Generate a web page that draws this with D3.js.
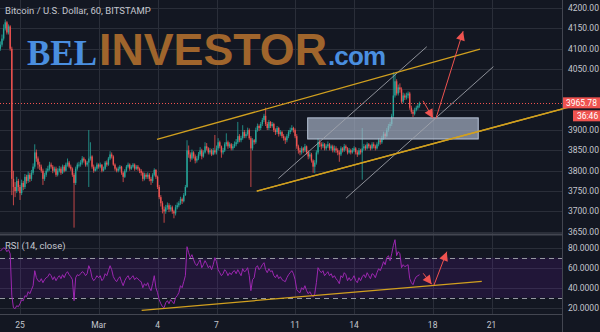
<!DOCTYPE html>
<html>
  <head>
    <meta charset="UTF-8" />
    <script src="https://d3js.org/d3.v7.min.js"></script>
    <style>
      body { margin: 0; background: #131722; }
    </style>
  </head>
  <body>
    <div id="my_dataviz"></div>

    <script>
      // 2-hour candles from Feb 24 00:00 (UTC), one line per day
      var startTime = Date.UTC(2019, 1, 24);
      var stepHours = 2;

      var close = [
        4110, 4125, 4150, 4165, 4140, 4155, 4100, 3780, 3760, 3750, 3775, 3760,
        3745, 3770, 3760, 3785, 3775, 3790, 3780, 3795, 3810, 3845, 3830, 3815,
        3810, 3800, 3780, 3790, 3800, 3805, 3815, 3810, 3800, 3805, 3790, 3800,
        3805, 3795, 3810, 3800, 3815, 3820, 3810, 3805, 3790, 3770, 3805, 3815,
        3815, 3820, 3830, 3825, 3815, 3820, 3830, 3835, 3810, 3800, 3805, 3815,
        3810, 3815, 3800, 3805, 3820, 3815, 3830, 3840, 3835, 3815, 3805, 3800,
        3805, 3810, 3795, 3785, 3800, 3810, 3815, 3805, 3810, 3815, 3805, 3810,
        3805, 3800, 3795, 3780, 3790, 3785, 3790, 3780, 3775, 3790, 3802, 3785,
        3760, 3735, 3720, 3705, 3700, 3710, 3715, 3705, 3710, 3700, 3695, 3710,
        3715, 3720, 3730, 3725, 3740, 3760, 3850, 3840, 3830, 3845, 3835, 3825,
        3830, 3840, 3850, 3835, 3845, 3860, 3855, 3845, 3850, 3840, 3850, 3845,
        3855, 3870, 3860, 3845, 3850, 3865, 3870, 3860, 3865, 3855, 3860, 3865,
        3870, 3885, 3875, 3880, 3895, 3885, 3890, 3900, 3880, 3855, 3875, 3870,
        3900, 3910, 3905, 3915, 3925, 3935, 3915, 3905, 3920, 3910, 3915, 3900,
        3895, 3905, 3890, 3895, 3885, 3880, 3875, 3885, 3895, 3900, 3905, 3900,
        3885, 3860, 3850, 3845, 3855, 3850, 3860, 3845, 3835, 3840, 3825, 3810,
        3820, 3845, 3870, 3865, 3860, 3865, 3855, 3860, 3865, 3855, 3860, 3850,
        3855, 3850, 3845, 3840, 3855, 3850, 3860, 3855, 3845, 3850, 3845, 3850,
        3855, 3845, 3840, 3850, 3845, 3855, 3860, 3855, 3865, 3860, 3855, 3865,
        3860, 3855, 3865, 3875, 3870, 3880, 3890, 3885, 3900, 3910, 3915, 3935,
        3985, 4020, 3990, 4005, 4000, 3970, 3985, 3980, 3985, 3990, 3955, 3945,
        3940, 3950, 3955, 3960, 3965.78
      ];
      var firstOpen = 4100;

      var high = [
        4118, 4135, 4160, 4172, 4168, 4160, 4158, 4105, 3800, 3772, 3785, 3780,
        3765, 3778, 3775, 3792, 3790, 3798, 3795, 3802, 3818, 3865, 3852, 3835,
        3822, 3815, 3805, 3795, 3806, 3812, 3822, 3820, 3814, 3810, 3810, 3806,
        3812, 3810, 3815, 3814, 3820, 3830, 3824, 3815, 3808, 3795, 3810, 3820,
        3822, 3826, 3836, 3834, 3828, 3824, 3900, 3870, 3838, 3815, 3810, 3820,
        3818, 3820, 3816, 3810, 3824, 3825, 3834, 3848, 3845, 3838, 3818, 3808,
        3810, 3814, 3812, 3798, 3804, 3814, 3820, 3818, 3814, 3819, 3818, 3814,
        3814, 3808, 3804, 3798, 3795, 3794, 3796, 3794, 3785, 3794, 3806, 3804,
        3788, 3765, 3740, 3725, 3712, 3716, 3722, 3720, 3716, 3714, 3704, 3716,
        3722, 3725, 3736, 3734, 3745, 3765, 3875, 3862, 3845, 3852, 3848, 3840,
        3836, 3846, 3858, 3854, 3850, 3870, 3868, 3858, 3856, 3854, 3856, 3888,
        3862, 3880, 3874, 3862, 3856, 3870, 3892, 3874, 3870, 3868, 3866, 3872,
        3878, 3920, 3890, 3886, 3912, 3900, 3896, 3906, 3904, 3885, 3880, 3878,
        3906, 3916, 3914, 3920, 3930, 3940, 3955, 3920, 3925, 3922, 3920, 3918,
        3904, 3910, 3908, 3900, 3898, 3890, 3884, 3890, 3900, 3906, 3912, 3908,
        3904, 3890, 3864, 3856, 3860, 3858, 3866, 3862, 3850, 3846, 3844, 3828,
        3826, 3850, 3880, 3876, 3870, 3870, 3868, 3865, 3872, 3868, 3864, 3864,
        3862, 3860, 3855, 3850, 3860, 3858, 3866, 3864, 3858, 3856, 3854, 3856,
        3860, 3858, 3850, 3856, 3854, 3905, 3866, 3864, 3870, 3868, 3864, 3870,
        3870, 3864, 3870, 3880, 3878, 3886, 3896, 3894, 3905, 3915, 3920, 3940,
        4042, 4040, 4025, 4012, 4015, 4005, 3992, 3990, 3992, 3995, 3994, 3960,
        3950, 3955, 3960, 3966, 3970
      ];

      var low = [
        4095, 4105, 4120, 4145, 4135, 4135, 4095, 3740, 3715, 3735, 3745, 3750,
        3728, 3740, 3752, 3755, 3768, 3770, 3772, 3775, 3790, 3805, 3822, 3805,
        3802, 3795, 3765, 3775, 3785, 3796, 3800, 3805, 3794, 3796, 3785, 3786,
        3796, 3790, 3792, 3796, 3798, 3810, 3806, 3800, 3785, 3660, 3765, 3800,
        3808, 3810, 3815, 3820, 3810, 3810, 3760, 3825, 3805, 3795, 3798, 3800,
        3805, 3806, 3796, 3798, 3802, 3810, 3812, 3826, 3830, 3812, 3800, 3796,
        3796, 3800, 3790, 3772, 3782, 3796, 3806, 3800, 3802, 3806, 3800, 3802,
        3800, 3794, 3788, 3774, 3776, 3780, 3780, 3774, 3765, 3770, 3786, 3780,
        3755, 3730, 3712, 3695, 3672, 3694, 3704, 3698, 3700, 3694, 3683, 3690,
        3705, 3710, 3716, 3718, 3722, 3738, 3758, 3832, 3822, 3826, 3830, 3818,
        3820, 3826, 3836, 3828, 3832, 3842, 3850, 3840, 3840, 3836, 3838, 3840,
        3840, 3850, 3855, 3832, 3840, 3846, 3860, 3854, 3856, 3850, 3850, 3856,
        3860, 3866, 3870, 3870, 3876, 3880, 3880, 3886, 3876, 3760, 3850, 3864,
        3866, 3896, 3898, 3900, 3910, 3920, 3910, 3900, 3900, 3905, 3906, 3895,
        3888, 3890, 3884, 3886, 3880, 3874, 3866, 3870, 3880, 3890, 3896, 3894,
        3880, 3854, 3842, 3838, 3840, 3844, 3846, 3840, 3828, 3830, 3820, 3795,
        3794, 3815, 3840, 3858, 3852, 3856, 3850, 3850, 3856, 3850, 3850, 3845,
        3845, 3844, 3838, 3822, 3836, 3845, 3846, 3850, 3840, 3842, 3840, 3842,
        3846, 3840, 3834, 3838, 3840, 3778, 3850, 3850, 3852, 3855, 3850, 3852,
        3855, 3850, 3852, 3860, 3864, 3866, 3876, 3880, 3882, 3896, 3904, 3910,
        3930, 3980, 3985, 3985, 3992, 3965, 3966, 3974, 3975, 3978, 3950, 3940,
        3932, 3936, 3946, 3950, 3955
      ];

      var rsi = [
        77, 78, 80, 79, 76, 78, 74, 32, 20, 19, 22, 21,
        24, 28, 27, 32, 31, 36, 34, 38, 42, 57, 50, 47,
        46, 49, 45, 48, 50, 51, 54, 52, 48, 51, 47, 50,
        52, 49, 53, 50, 54, 56, 53, 51, 48, 27, 50, 53,
        52, 54, 56, 55, 52, 54, 62, 58, 50, 47, 49, 52,
        50, 52, 47, 49, 54, 52, 57, 62, 58, 51, 48, 46,
        49, 51, 46, 42, 47, 50, 52, 48, 50, 52, 48, 50,
        49, 47, 46, 40, 44, 42, 45, 40, 37, 44, 52, 40,
        35, 28, 24, 21, 20, 25, 27, 24, 28, 26, 24, 30,
        32, 35, 42, 40, 46, 52, 81, 75, 70, 73, 68, 64,
        62, 65, 68, 60, 63, 67, 64, 60, 62, 58, 63, 70,
        66, 58, 55, 52, 54, 58, 56, 52, 55, 53, 56, 57,
        54, 58, 55, 52, 59, 56, 57, 60, 52, 37, 48, 50,
        60, 62, 58, 60, 63, 65, 58, 55, 59, 56, 57, 52,
        50, 53, 49, 51, 48, 47, 46, 50, 53, 55, 57, 54,
        48, 38, 36, 35, 40, 38, 42, 37, 34, 36, 33, 31,
        34, 45, 60, 57, 55, 57, 52, 54, 56, 52, 54, 50,
        52, 49, 47, 44, 52, 50, 55, 53, 47, 50, 47, 49,
        52, 47, 45, 50, 47, 51, 53, 50, 55, 52, 49, 54,
        53, 50, 55, 59, 57, 61, 66, 63, 70, 72, 67, 74,
        82, 88, 72, 76, 74, 60, 63, 61, 62, 63, 49, 45,
        43, 48, 51, 52, 53
      ];

      // axis ticks
      var priceTicks = [3650, 3700, 3750, 3800, 3850, 3900, 3950, 4000, 4050, 4100, 4150, 4200];
      var rsiTicks = [20, 40, 60, 80];
      var dateTicks = ["2019-02-25", "2019-03-01", "2019-03-04", "2019-03-07", "2019-03-11", "2019-03-14", "2019-03-18", "2019-03-21"];
      var dateLabels = ["25", "Mar", "4", "7", "11", "14", "18", "21"];

      // drawings, in days from Feb 25 and price / rsi units
      var channelLines = [
        { d1: 6.97, p1: 3877, d2: 23.41, p2: 4099 },
        { d1: 12.05, p1: 3750, d2: 29.52, p2: 3977 }
      ];
      var grayLines = [
        { d1: 13.15, p1: 3781, d2: 20.7, p2: 4105 },
        { d1: 16.58, p1: 3732, d2: 24.09, p2: 4056 }
      ];
      var zoneBox = { d1: 14.64, d2: 23.32, top: 3930, bottom: 3878 };
      var priceArrows = [
        { d1: 20.51, p1: 3972, d2: 21.02, p2: 3929 },
        { d1: 21.17, p1: 3929, d2: 22.55, p2: 4143 }
      ];
      var rsiTrend = { d1: 6.19, p1: 17.4, d2: 23.5, p2: 46.4 };
      var rsiArrows = [
        { d1: 20.52, p1: 54.4, d2: 20.95, p2: 43.4 },
        { d1: 21.07, p1: 42.7, d2: 21.72, p2: 76 }
      ];
      var lastPrice = 3965.78;
      var countdown = "36:46";

      var width = 600,
        height = 332,
        axisX = 562.5,
        uiFont = "Roboto, 'Noto Sans', sans-serif";

      var svg = d3
        .select("#my_dataviz")
        .append("svg")
        .attr("width", width)
        .attr("height", height)
        .style("display", "block")
        .style("background", "#131722")
        .style("font-family", uiFont);

      var day0 = Date.UTC(2019, 1, 25);
      function dayToDate(d) {
        return new Date(day0 + d * 864e5);
      }

      var xScale = d3
        .scaleUtc()
        .domain([new Date(day0), dayToDate(24)])
        .range([20, 491.6]);
      var yScale = d3.scaleLinear().domain([3650, 4200]).range([231.7, 8.1]);
      var rScale = d3.scaleLinear().domain([20, 80]).range([307.7, 247.7]);

      var candles = close.map(function (c, i) {
        var o = i === 0 ? firstOpen : close[i - 1];
        return {
          t: new Date(startTime + i * stepHours * 36e5),
          o: o,
          c: c,
          h: Math.max(high[i], o, c),
          l: Math.min(low[i], o, c),
          r: rsi[i]
        };
      });

      // grid
      var grid = svg.append("g").attr("stroke", "#2a2e39").attr("stroke-width", 1);
      grid
        .selectAll(".vg")
        .data(dateTicks)
        .join("line")
        .attr("x1", (d) => Math.round(xScale(new Date(d))) + 0.5)
        .attr("x2", (d) => Math.round(xScale(new Date(d))) + 0.5)
        .attr("y1", 0)
        .attr("y2", 314);
      grid
        .selectAll(".hg")
        .data(priceTicks)
        .join("line")
        .attr("x1", 0)
        .attr("x2", axisX)
        .attr("y1", (d) => Math.round(yScale(d)) + 0.5)
        .attr("y2", (d) => Math.round(yScale(d)) + 0.5);
      grid
        .selectAll(".rg")
        .data(rsiTicks)
        .join("line")
        .attr("x1", 0)
        .attr("x2", axisX)
        .attr("y1", (d) => Math.round(rScale(d)) + 0.5)
        .attr("y2", (d) => Math.round(rScale(d)) + 0.5);

      // logo watermark
      var logo = svg.append("g").style("font-weight", "bold");
      logo.append("text").attr("x", 27).attr("y", 65)
        .style("font-family", "'Liberation Serif', 'DejaVu Serif', serif")
        .attr("font-size", 35).attr("fill", "#4a8fe0")
        .attr("textLength", 70).text("BEL");
      logo.append("text").attr("x", 99).attr("y", 65)
        .style("font-family", "'Liberation Sans', Arial, sans-serif")
        .attr("font-size", 44).attr("fill", "#a0652c")
        .attr("textLength", 228).attr("lengthAdjust", "spacingAndGlyphs").text("INVESTOR");
      logo.append("text").attr("x", 328).attr("y", 65)
        .style("font-family", "'Liberation Sans', Arial, sans-serif")
        .attr("font-size", 26).attr("fill", "#4a8fe0")
        .attr("textLength", 58).text(".com");

      // RSI band 30-70
      svg.append("rect")
        .attr("x", 0)
        .attr("width", axisX)
        .attr("y", rScale(70))
        .attr("height", rScale(30) - rScale(70))
        .attr("fill", "rgba(153,21,255,0.1)");
      svg.selectAll(".band")
        .data([70, 30])
        .join("line")
        .attr("x1", 0)
        .attr("x2", axisX)
        .attr("y1", (d) => Math.round(rScale(d)) + 0.5)
        .attr("y2", (d) => Math.round(rScale(d)) + 0.5)
        .attr("stroke", "#9598a1")
        .attr("stroke-dasharray", "5,4");

      // candles
      var cg = svg.append("g");
      cg.selectAll(".wick")
        .data(candles)
        .join("line")
        .attr("x1", (d) => xScale(d.t))
        .attr("x2", (d) => xScale(d.t))
        .attr("y1", (d) => yScale(d.h))
        .attr("y2", (d) => yScale(d.l))
        .attr("stroke", (d) => (d.c >= d.o ? "#26a69a" : "#ef5350"))
        .attr("stroke-width", 0.8);
      cg.selectAll(".body")
        .data(candles)
        .join("rect")
        .attr("x", (d) => xScale(d.t) - 0.7)
        .attr("width", 1.4)
        .attr("y", (d) => yScale(Math.max(d.o, d.c)))
        .attr("height", (d) => Math.max(1, Math.abs(yScale(d.o) - yScale(d.c))))
        .attr("fill", (d) => (d.c >= d.o ? "#26a69a" : "#ef5350"));

      // RSI line
      var rsiLine = d3.line().x((d) => xScale(d.t)).y((d) => rScale(d.r));
      svg.append("path")
        .attr("d", rsiLine(candles))
        .attr("fill", "none")
        .attr("stroke", "#9c27b0")
        .attr("stroke-width", 1);

      // last price line
      svg.append("line")
        .attr("x1", 0)
        .attr("x2", axisX)
        .attr("y1", Math.round(yScale(lastPrice)) + 0.5)
        .attr("y2", Math.round(yScale(lastPrice)) + 0.5)
        .attr("stroke", "#ef5350")
        .attr("stroke-dasharray", "1,2");

      // drawings
      function seg(g, d, ys, color, w) {
        return g.append("line")
          .attr("x1", xScale(dayToDate(d.d1)))
          .attr("y1", ys(d.p1))
          .attr("x2", xScale(dayToDate(d.d2)))
          .attr("y2", ys(d.p2))
          .attr("stroke", color)
          .attr("stroke-width", w);
      }
      function arrow(g, d, ys) {
        var x1 = xScale(dayToDate(d.d1)), y1 = ys(d.p1);
        var x2 = xScale(dayToDate(d.d2)), y2 = ys(d.p2);
        var a = Math.atan2(y2 - y1, x2 - x1), L = 9, W = 4.5;
        g.append("line").attr("x1", x1).attr("y1", y1).attr("x2", x2).attr("y2", y2)
          .attr("stroke", "#ef5350").attr("stroke-width", 1);
        var bx = x2 - L * Math.cos(a), by = y2 - L * Math.sin(a);
        g.append("polygon")
          .attr("points", [
            [x2, y2],
            [bx + W * Math.sin(a), by - W * Math.cos(a)],
            [bx - W * Math.sin(a), by + W * Math.cos(a)]
          ].map((p) => p.join(",")).join(" "))
          .attr("fill", "#ef5350");
      }

      var dg = svg.append("g");
      dg.append("rect")
        .attr("x", xScale(dayToDate(zoneBox.d1)))
        .attr("width", xScale(dayToDate(zoneBox.d2)) - xScale(dayToDate(zoneBox.d1)))
        .attr("y", yScale(zoneBox.top))
        .attr("height", yScale(zoneBox.bottom) - yScale(zoneBox.top))
        .attr("fill", "#aab5c9")
        .attr("fill-opacity", 0.68)
        .attr("stroke", "#b8c4d8")
        .attr("stroke-width", 1);
      grayLines.forEach((d) => seg(dg, d, yScale, "#a3a6ae", 1).attr("opacity", 0.85));
      channelLines.forEach((d) => seg(dg, d, yScale, "#d1a01f", 1.3));
      priceArrows.forEach((d) => arrow(dg, d, yScale));
      seg(dg, rsiTrend, rScale, "#d1a01f", 1.3);
      rsiArrows.forEach((d) => arrow(dg, d, rScale));

      // pane borders
      svg.append("rect").attr("x", axisX).attr("y", 0).attr("width", width - axisX).attr("height", height).attr("fill", "#131722");
      svg.append("rect").attr("x", 0).attr("y", 314.5).attr("width", axisX).attr("height", height - 314.5).attr("fill", "#131722");
      svg.append("line").attr("x1", 0).attr("x2", axisX).attr("y1", 234.5).attr("y2", 234.5)
        .attr("stroke", "#434651").attr("stroke-width", 2);
      svg.append("line").attr("x1", 0).attr("x2", axisX).attr("y1", 314.5).attr("y2", 314.5)
        .attr("stroke", "#434651");
      svg.append("line").attr("x1", axisX).attr("x2", axisX).attr("y1", 0).attr("y2", height)
        .attr("stroke", "#434651");
      // lower channel line continues over the price scale
      seg(svg, channelLines[1], yScale, "#d1a01f", 1.3);

      // axis labels; a tick label under the last-price tag is hidden, as on the platform
      var py = yScale(lastPrice);
      svg.selectAll(".pl")
        .data(priceTicks.filter((d) => Math.abs(yScale(d) - py) > 14))
        .join("text")
        .attr("x", 568)
        .attr("y", (d) => yScale(d) + 3)
        .attr("font-size", 8.5)
        .attr("fill", "#c3c6ce")
        .text((d) => d3.format(".2f")(d));
      svg.selectAll(".rl")
        .data(rsiTicks)
        .join("text")
        .attr("x", 568)
        .attr("y", (d) => rScale(d) + 3)
        .attr("font-size", 8.5)
        .attr("fill", "#c3c6ce")
        .text((d) => d3.format(".4f")(d));
      svg.selectAll(".dl")
        .data(dateTicks)
        .join("text")
        .attr("x", (d) => xScale(new Date(d)))
        .attr("y", 328)
        .attr("text-anchor", "middle")
        .attr("font-size", 8.5)
        .attr("fill", "#c3c6ce")
        .text((d, i) => dateLabels[i]);

      // last price tag and countdown
      svg.append("rect").attr("x", axisX + 0.5).attr("y", py - 6).attr("width", width - axisX).attr("height", 11).attr("fill", "#ef5350");
      svg.append("text").attr("x", 566).attr("y", py + 3).attr("font-size", 8.5).attr("fill", "#ffffff").text(d3.format(".2f")(lastPrice));
      svg.append("rect").attr("x", 573).attr("y", py + 7).attr("width", 27).attr("height", 11).attr("fill", "#ef5350");
      svg.append("text").attr("x", 577).attr("y", py + 15.5).attr("font-size", 8.5).attr("fill", "#ffffff").text(countdown);

      // titles
      svg.append("text").attr("x", 5).attr("y", 14).attr("font-size", 9.5).attr("fill", "#c3c6ce")
        .text("Bitcoin / U.S. Dollar, 60, BITSTAMP");
      svg.append("text").attr("x", 5).attr("y", 249).attr("font-size", 9.5).attr("fill", "#c3c6ce")
        .text("RSI (14, close)");
    </script>
  </body>
</html>
